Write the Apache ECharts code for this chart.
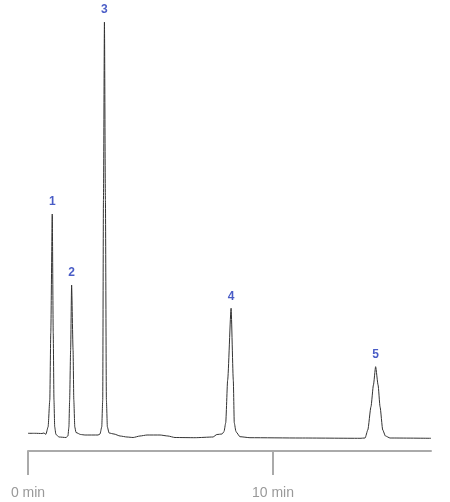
<!DOCTYPE html>
<html>
<head>
<meta charset="utf-8">
<script src="https://cdn.jsdelivr.net/npm/echarts@6/dist/echarts.min.js"></script>
<style>
  html, body { margin: 0; padding: 0; background: #fff; }
  #chart { width: 450px; height: 502px; }
</style>
</head>
<body>
<div id="chart"></div>
<script>
// retention time (min) and detector signal
var traceTime = [
  0, 0.29, 0.57, 0.65, 0.73, 0.82, 0.89, 0.93, 0.99, 1.03, 1.06, 1.09, 1.14, 1.27,
  1.55, 1.63, 1.67, 1.70, 1.74, 1.78, 1.84, 1.87, 1.91, 1.96, 2.15,
  2.33, 2.86, 2.94, 3.01, 3.05, 3.08, 3.12, 3.16, 3.20, 3.24, 3.31,
  3.51, 3.76, 4.04, 4.29, 4.57, 4.86, 5.39, 5.71, 6.00, 6.82,
  7.55, 7.71, 7.92, 8.00, 8.07, 8.15, 8.29, 8.38, 8.42, 8.49, 8.65, 9.06,
  11.10, 13.55, 13.76, 13.87, 14.00, 14.10, 14.19, 14.29, 14.37, 14.48, 14.59, 14.78,
  16.45
];
var traceSignal = [
  17.7, 17.7, 17.5, 18, 16.7, 24, 51, 118, 237, 118, 51, 24, 16.5, 14,
  13.5, 15, 24, 51, 101, 166, 101, 51, 24, 18.5, 16.5,
  16, 16, 17, 24, 51, 251, 429, 251, 51, 24, 18,
  17, 15, 14, 13.5, 15, 16, 16, 15, 13.5, 13.3,
  14, 16.5, 17, 19.3, 28, 71, 142.7, 71, 28, 19.3, 14.3, 13.3,
  13, 12.7, 13, 21, 44.3, 66, 84.3, 66, 44.3, 21, 15, 13,
  12.7
];

// labelled peaks
var peakNames = ['1', '2', '3', '4', '5'];
var peakTime = [0.99, 1.78, 3.12, 8.29, 14.19];
var peakSignal = [237, 166, 429, 142.7, 84.3];

// time axis
var axisTicks = [0, 10];
var timeMax = 16.45;

var trace = traceTime.map(function (t, i) { return [t, traceSignal[i]]; });
var peaks = peakTime.map(function (t, i) {
  return { value: [t, peakSignal[i]], name: peakNames[i] };
});

var chart = echarts.init(document.getElementById('chart'));
chart.setOption({
  animation: false,
  grid: { left: 28, right: 19, top: 22, bottom: 51 },
  xAxis: {
    type: 'value',
    min: 0,
    max: timeMax,
    interval: 10,
    splitLine: { show: false },
    axisLine: { lineStyle: { color: '#aaaaaa', width: 2 } },
    axisTick: {
      customValues: axisTicks,
      length: 24,
      lineStyle: { color: '#aaaaaa', width: 2 }
    },
    axisLabel: {
      customValues: axisTicks,
      formatter: '{value} min',
      color: '#999999',
      fontSize: 14,
      fontFamily: 'Liberation Sans, Arial, sans-serif',
      margin: 35
    }
  },
  yAxis: {
    type: 'value',
    min: 0,
    max: 429,
    show: false
  },
  series: [
    {
      type: 'line',
      data: trace,
      showSymbol: false,
      smooth: 0.2,
      smoothMonotone: 'x',
      lineStyle: { color: '#333333', width: 1 },
      silent: true
    },
    {
      type: 'scatter',
      data: peaks,
      symbolSize: 0,
      silent: true,
      label: {
        show: true,
        position: 'top',
        distance: 6,
        formatter: '{b}',
        color: '#1b33b8',
        fontWeight: 'bold',
        fontSize: 12,
        fontFamily: 'Liberation Sans, Arial, sans-serif'
      }
    }
  ]
});
</script>
</body>
</html>
